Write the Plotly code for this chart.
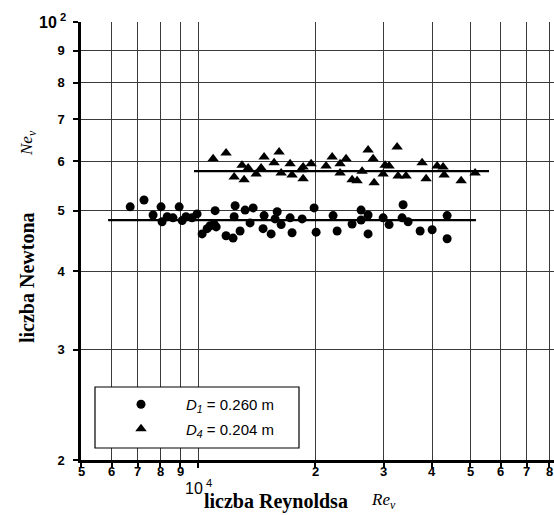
import math
import plotly.graph_objects as go

# ---- data ----
re_d1 = [6690, 7260, 7660, 8030, 8080, 8330, 8620, 8940, 9100, 9310, 9650, 9940,
         10240, 10550, 10740, 10990, 11130, 11060, 11800, 12300, 12450, 12380, 12820,
         13210, 13850, 13600, 14780, 14690, 15410, 15970, 15770, 16350, 17240, 17440,
         18510, 19870, 20110, 22230, 22770, 24880, 26240, 26240, 27350, 27350, 29900,
         30970, 33650, 33450, 34660, 37220, 39960, 43670, 43670]
ne_d1 = [5.07, 5.20, 4.92, 5.07, 4.80, 4.89, 4.87, 5.07, 4.82, 4.89, 4.87, 4.94,
         4.59, 4.68, 4.73, 4.76, 4.71, 5.00, 4.56, 4.52, 5.09, 4.89, 4.64,
         5.01, 5.05, 4.78, 4.91, 4.68, 4.59, 4.98, 4.85, 4.75, 4.87, 4.61,
         4.85, 5.05, 4.62, 4.91, 4.64, 4.76, 5.01, 4.83, 4.92, 4.59, 4.87,
         4.75, 5.11, 4.87, 4.80, 4.64, 4.66, 4.91, 4.51]

re_d4 = [10930, 11800, 12380, 12970, 13130, 13450, 14100, 14520, 14780, 15680, 16150,
         16350, 17240, 17440, 18400, 18620, 18620, 19520, 21330, 22110, 23170, 23170,
         24010, 24880, 25630, 26400, 28180, 28350, 29900, 30250, 30970, 32670, 34240,
         37660, 38560, 41160, 42640, 42900, 47450, 51530, 32480, 27350]
ne_d4 = [6.05, 6.18, 5.66, 5.91, 5.60, 5.85, 5.72, 5.85, 6.09, 5.96, 6.20,
         5.74, 5.94, 5.70, 5.81, 5.62, 5.87, 5.94, 5.89, 6.09, 5.94, 5.74,
         6.05, 5.60, 5.58, 5.78, 6.05, 5.54, 5.72, 5.91, 5.89, 5.68, 5.68,
         5.96, 5.62, 5.89, 5.87, 5.70, 5.58, 5.74, 6.32, 6.25]

fit_d1_re = [5870, 51800]
fit_d1_ne = [4.83, 4.83]
fit_d4_re = [9760, 55960]
fit_d4_ne = [5.78, 5.78]

x_tickvals = [5000, 6000, 7000, 8000, 9000, 10000, 20000, 30000, 40000, 50000, 60000, 70000, 80000]
x_ticktext = ["5", "6", "7", "8", "9", "", "2", "3", "4", "5", "6", "7", "8"]
y_tickvals = [2, 3, 4, 5, 6, 7, 8, 9, 10]
y_ticktext = ["2", "3", "4", "5", "6", "7", "8", "9", ""]

fig = go.Figure()
fig.add_trace(go.Scatter(x=fit_d1_re, y=fit_d1_ne, mode="lines",
                         line=dict(color="black", width=2.2), showlegend=False, hoverinfo="skip"))
fig.add_trace(go.Scatter(x=fit_d4_re, y=fit_d4_ne, mode="lines",
                         line=dict(color="black", width=2.2), showlegend=False, hoverinfo="skip"))
fig.add_trace(go.Scatter(x=re_d1, y=ne_d1, mode="markers",
                         marker=dict(symbol="circle", size=9, color="black"),
                         name="<i>D</i><sub><i>1</i></sub> = 0.260 m", legendgroup="a"))
fig.add_trace(go.Scatter(x=re_d4, y=ne_d4, mode="markers",
                         marker=dict(symbol="triangle-up", size=10, color="black"),
                         name="<i>D</i><sub><i>4</i></sub> = 0.204 m", legendgroup="b"))

W, H = 554, 515
L, R, T, B = 81, 0, 22, 55
pw = W - L - R
ph = H - T - B
px_per_dec = 389.0
x0 = math.log10(5000)
x1 = x0 + pw / px_per_dec

def px(xpix):
    return (xpix - L) / pw

def py(ypix):
    return (H - B - ypix) / ph

def bold(labels):
    return ["<b>%s</b>" % t if t else "" for t in labels]

tick_font = dict(family="Liberation Sans, Arial", size=13, color="black")
grid_col = "#3a3a3a"

annotations = [
    dict(x=math.log10(v), y=py(471), xref="x", yref="paper", text="<b>%s</b>" % t,
         showarrow=False, xanchor="center", yanchor="middle", font=tick_font)
    for v, t in zip(x_tickvals, x_ticktext) if t
]
annotations += [
    dict(x=px(68), y=1, xref="paper", yref="paper", text="<b>10</b><sup><b> 2</b></sup>",
         showarrow=False, xanchor="right", yanchor="middle", yshift=1,
         font=dict(family="Liberation Sans, Arial", size=16, color="black")),
    dict(x=4, y=py(487), xref="x", yref="paper", text="10<sup> 4</sup>",
         showarrow=False, xanchor="center", yanchor="middle",
         font=dict(family="Liberation Sans, Arial", size=16, color="black")),
    dict(x=px(276), y=py(501), xref="paper", yref="paper",
         text="<b>liczba Reynoldsa</b>", showarrow=False,
         xanchor="center", yanchor="middle",
         font=dict(family="Liberation Serif, Times New Roman", size=20, color="black")),
    dict(x=px(383), y=py(501), xref="paper", yref="paper",
         text="<i>Re<sub>v</sub></i>", showarrow=False,
         xanchor="center", yanchor="middle",
         font=dict(family="Liberation Serif, Times New Roman", size=17, color="black")),
    dict(x=px(27), y=py(278), xref="paper", yref="paper", textangle=-90,
         text="<b>liczba Newtona</b>", showarrow=False,
         xanchor="center", yanchor="middle",
         font=dict(family="Liberation Serif, Times New Roman", size=20, color="black")),
    dict(x=px(28), y=py(143), xref="paper", yref="paper", textangle=-90,
         text="<i>Ne<sub>v</sub></i>", showarrow=False,
         xanchor="center", yanchor="middle",
         font=dict(family="Liberation Serif, Times New Roman", size=17, color="black")),
]

fig.update_layout(
    width=W, height=H,
    margin=dict(l=L, r=R, t=T, b=B),
    paper_bgcolor="white", plot_bgcolor="white",
    showlegend=True,
    legend=dict(x=px(96), y=py(388), xanchor="left", yanchor="top",
                bgcolor="rgba(0,0,0,0)", borderwidth=0,
                font=dict(family="Liberation Sans, Arial", size=15, color="black"),
                itemwidth=80, tracegroupgap=2),
    xaxis=dict(type="log", range=[x0, x1], tickmode="array",
               tickvals=x_tickvals, showticklabels=False,
               showgrid=True, gridcolor=grid_col, gridwidth=1.2,
               showline=True, linecolor="black", linewidth=2.5,
               ticks="outside", ticklen=5, tickwidth=1.5, tickcolor="black",
               zeroline=False),
    yaxis=dict(type="log", range=[math.log10(2), 1], tickmode="array",
               tickvals=y_tickvals, ticktext=bold(y_ticktext),
               showgrid=True, gridcolor=grid_col, gridwidth=1.2,
               showline=True, linecolor="black", linewidth=2.5,
               ticks="outside", ticklen=5, tickwidth=1.5, tickcolor="black",
               ticklabelstandoff=6,
               tickfont=tick_font, zeroline=False),
    shapes=[dict(type="rect", xref="paper", yref="paper",
                 x0=px(95), x1=px(299), y0=py(448), y1=py(387),
                 line=dict(color="black", width=1.2), fillcolor="white", layer="above")],
    annotations=annotations,
)

fig.write_html("out.html")
